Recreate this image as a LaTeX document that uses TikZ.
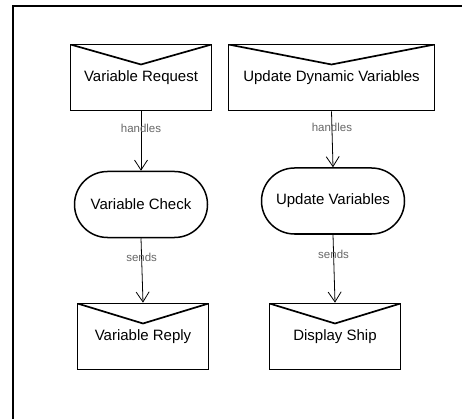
\documentclass[tikz,border=0pt]{standalone}
\usepackage{fontspec}
\setmainfont{Liberation Sans}
\usetikzlibrary{arrows.meta,shapes.misc,calc}
\begin{document}
\begin{tikzpicture}[x=1pt,y=-1pt,
  envelope/.style={draw, line width=1.7pt, rectangle, minimum height=66pt,
    font=\fontsize{15}{17}\selectfont, inner sep=0pt,
    path picture={\draw[line width=1.7pt] (path picture bounding box.north west)
      -- ($(path picture bounding box.north)+(0,-20pt)$)
      -- (path picture bounding box.north east);}},
  stadium/.style={draw, line width=1.5pt, rounded rectangle, minimum height=66pt,
    font=\fontsize{15}{17}\selectfont, inner sep=0pt},
  flow/.style={draw, line width=0.8pt, -{Straight Barb[length=10pt,width=13pt,line width=0.8pt]}},
  elabel/.style={font=\fontsize{11.5}{13}\selectfont, text=black!60, inner sep=0pt}
]
\useasboundingbox (0,0) rectangle (462,419);
\draw[line width=2.4pt] (13,419) -- (13,6) -- (462,6);

\node[envelope, minimum width=141pt] (vreq) at (141,77.5) {\raisebox{2pt}{Variable Request}};
\node[envelope, minimum width=206pt] (udv) at (331.5,77.5) {\raisebox{2pt}{Update Dynamic Variables}};
\node[stadium, minimum width=133pt] (vchk) at (141,204.5) {Variable Check};
\node[stadium, minimum width=143pt] (uvar) at (333,201) {\raisebox{3pt}{Update Variables}};
\node[envelope, minimum width=131pt] (vrep) at (143,336.5) {\raisebox{2pt}{Variable Reply}};
\node[envelope, minimum width=131pt] (dship) at (335,336.5) {\raisebox{2pt}{Display Ship}};

\draw[flow] (vreq.south) -- node[elabel, pos=0.28] {handles} (vchk.north);
\draw[flow] (udv.south) -- node[elabel, pos=0.29] {handles} (uvar.north);
\draw[flow] (vchk.south) -- node[elabel, pos=0.3] {sends} (vrep.north);
\draw[flow] (uvar.south) -- node[elabel, pos=0.29] {sends} (dship.north);
\end{tikzpicture}
\end{document}
